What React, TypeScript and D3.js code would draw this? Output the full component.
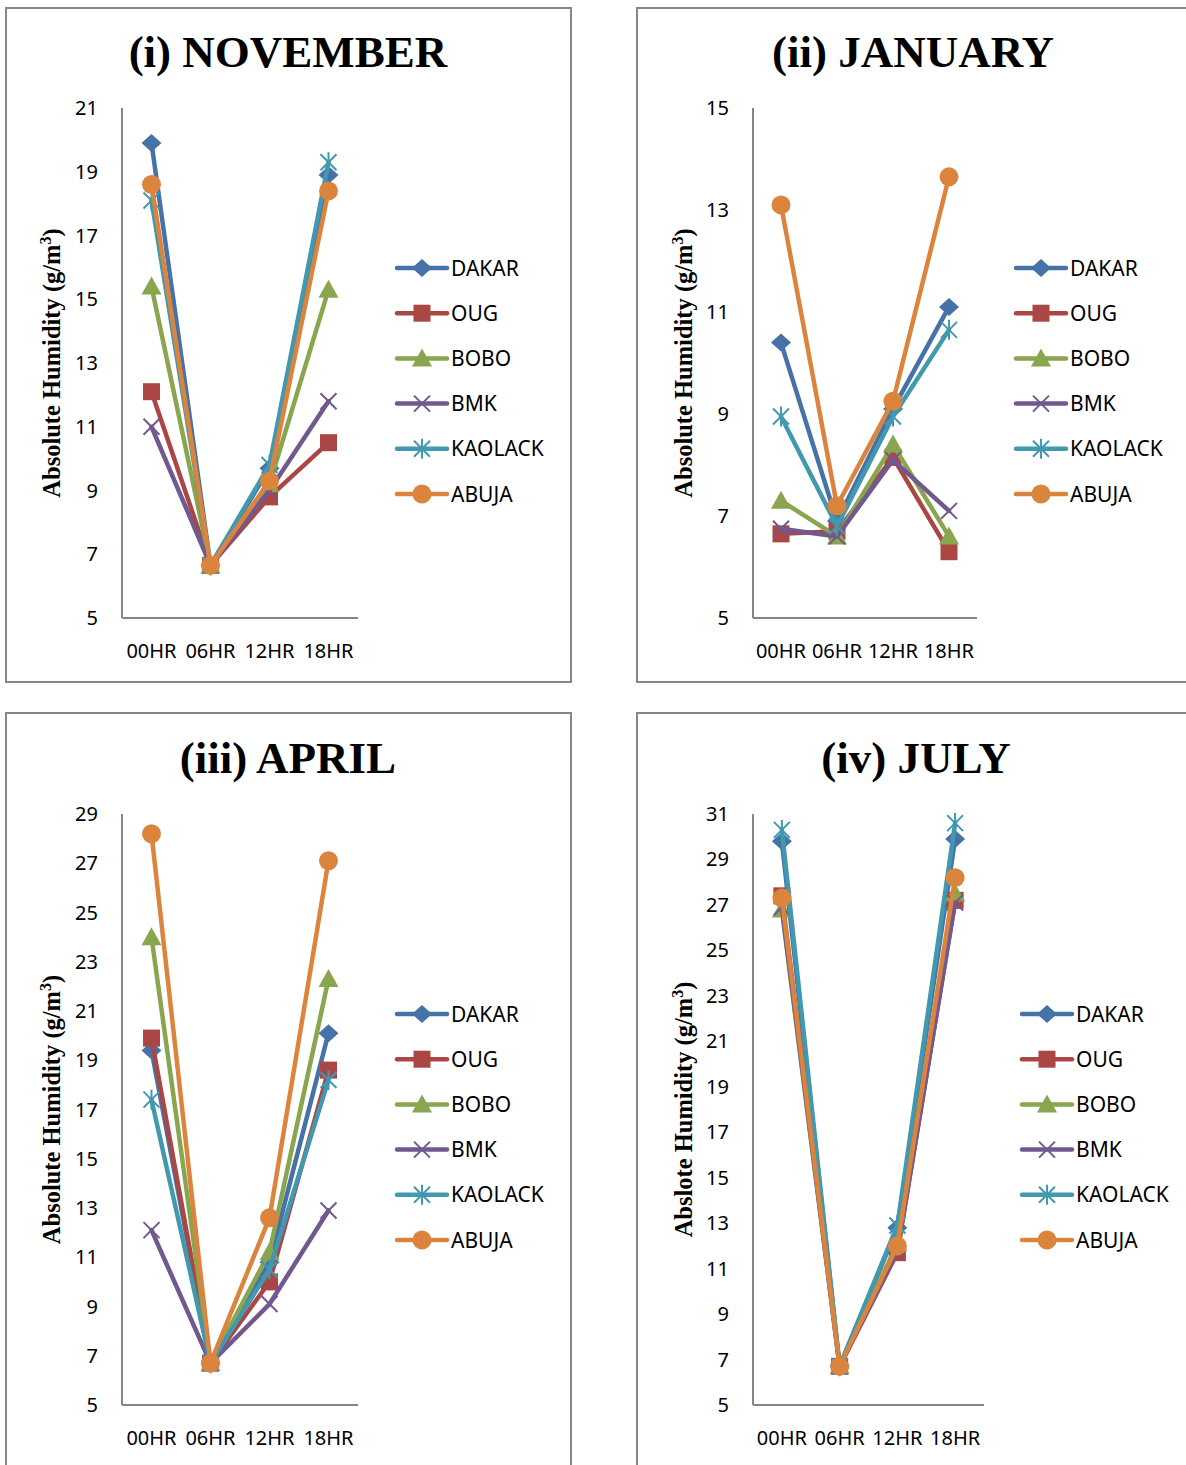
import React from "react";
import * as d3 from "d3";

const CATEGORIES = ["00HR", "06HR", "12HR", "18HR"];
const SERIES_NAMES = ["DAKAR", "OUG", "BOBO", "BMK", "KAOLACK", "ABUJA"];
const SERIES_COLORS = ["#4572A7", "#AA4643", "#89A54E", "#71588F", "#4198AF", "#DB843D"];
const SERIES_MARKERS = ["diamond", "square", "triangle", "x", "star", "circle"];

// (i) NOVEMBER
const NOV_DAKAR = [19.9, 6.65, 9.7, 18.9];
const NOV_OUG = [12.1, 6.65, 8.8, 10.5];
const NOV_BOBO = [15.4, 6.65, 9.2, 15.3];
const NOV_BMK = [11.0, 6.65, 9.0, 11.8];
const NOV_KAOLACK = [18.1, 6.65, 9.8, 19.3];
const NOV_ABUJA = [18.6, 6.65, 9.3, 18.4];

// (ii) JANUARY
const JAN_DAKAR = [10.4, 6.9, 9.1, 11.1];
const JAN_OUG = [6.65, 6.7, 8.15, 6.3];
const JAN_BOBO = [7.3, 6.6, 8.4, 6.6];
const JAN_BMK = [6.75, 6.6, 8.1, 7.1];
const JAN_KAOLACK = [8.95, 6.8, 8.95, 10.65];
const JAN_ABUJA = [13.1, 7.2, 9.25, 13.65];

// (iii) APRIL
const APR_DAKAR = [19.4, 6.7, 10.8, 20.1];
const APR_OUG = [19.9, 6.7, 10.0, 18.6];
const APR_BOBO = [24.0, 6.7, 11.2, 22.3];
const APR_BMK = [12.1, 6.7, 9.1, 12.9];
const APR_KAOLACK = [17.4, 6.7, 10.5, 18.2];
const APR_ABUJA = [28.2, 6.7, 12.6, 27.1];

// (iv) JULY
const JUL_DAKAR = [29.8, 6.7, 12.8, 29.9];
const JUL_OUG = [27.4, 6.7, 11.7, 27.2];
const JUL_BOBO = [26.8, 6.7, 12.1, 27.5];
const JUL_BMK = [26.9, 6.7, 11.8, 27.1];
const JUL_KAOLACK = [30.3, 6.7, 12.9, 30.6];
const JUL_ABUJA = [27.3, 6.7, 12.0, 28.2];

const NOV_TICKS = [5, 7, 9, 11, 13, 15, 17, 19, 21];
const JAN_TICKS = [5, 7, 9, 11, 13, 15];
const APR_TICKS = [5, 7, 9, 11, 13, 15, 17, 19, 21, 23, 25, 27, 29];
const JUL_TICKS = [5, 7, 9, 11, 13, 15, 17, 19, 21, 23, 25, 27, 29, 31];

const PANELS = [
  {
    title: "(i) NOVEMBER",
    yLabel: "Absolute Humidity (g/m",
    series: [NOV_DAKAR, NOV_OUG, NOV_BOBO, NOV_BMK, NOV_KAOLACK, NOV_ABUJA],
    ticks: NOV_TICKS,
    frame: { x: 6, y: 8, w: 565, h: 674 },
    plot: { x0: 122, x1: 358, top: 108, bottom: 618 },
    titleX: 288, titleY: 67,
    labelX: 60,
    legendX: 397, legendY: 268,
  },
  {
    title: "(ii) JANUARY",
    yLabel: "Absolute Humidity (g/m",
    series: [JAN_DAKAR, JAN_OUG, JAN_BOBO, JAN_BMK, JAN_KAOLACK, JAN_ABUJA],
    ticks: JAN_TICKS,
    frame: { x: 637, y: 8, w: 580, h: 674 },
    plot: { x0: 753, x1: 977, top: 108, bottom: 618 },
    titleX: 913, titleY: 67,
    labelX: 692,
    legendX: 1016, legendY: 268,
  },
  {
    title: "(iii) APRIL",
    yLabel: "Absolute Humidity (g/m",
    series: [APR_DAKAR, APR_OUG, APR_BOBO, APR_BMK, APR_KAOLACK, APR_ABUJA],
    ticks: APR_TICKS,
    frame: { x: 6, y: 713, w: 565, h: 800 },
    plot: { x0: 122, x1: 358, top: 814, bottom: 1405 },
    titleX: 288, titleY: 773,
    labelX: 60,
    legendX: 397, legendY: 1014,
  },
  {
    title: "(iv) JULY",
    yLabel: "Abslote Humidity (g/m",
    series: [JUL_DAKAR, JUL_OUG, JUL_BOBO, JUL_BMK, JUL_KAOLACK, JUL_ABUJA],
    ticks: JUL_TICKS,
    frame: { x: 637, y: 713, w: 580, h: 800 },
    plot: { x0: 753, x1: 984, top: 814, bottom: 1405 },
    titleX: 916, titleY: 773,
    labelX: 692,
    legendX: 1022, legendY: 1014,
  },
];

const SANS = "'Noto Sans', 'Open Sans', sans-serif";
const SERIF = "'Liberation Serif', 'Times New Roman', serif";

function Marker({ kind, x, y, color }: { kind: string; x: number; y: number; color: string }) {
  switch (kind) {
    case "diamond":
      return <path d={`M${x},${y - 9}L${x + 10},${y}L${x},${y + 9}L${x - 10},${y}Z`} fill={color} />;
    case "square":
      return <rect x={x - 8.5} y={y - 8.5} width={17} height={17} fill={color} />;
    case "triangle":
      return <path d={`M${x},${y - 10}L${x + 10},${y + 8}L${x - 10},${y + 8}Z`} fill={color} />;
    case "x":
      return (
        <path
          d={`M${x - 8},${y - 8}L${x + 8},${y + 8}M${x - 8},${y + 8}L${x + 8},${y - 8}`}
          stroke={color}
          strokeWidth={2}
          fill="none"
        />
      );
    case "star":
      return (
        <path
          d={`M${x - 8},${y - 8}L${x + 8},${y + 8}M${x - 8},${y + 8}L${x + 8},${y - 8}M${x},${y - 10}L${x},${y + 10}`}
          stroke={color}
          strokeWidth={2}
          fill="none"
        />
      );
    default:
      return <circle cx={x} cy={y} r={9.5} fill={color} />;
  }
}

function Panel({ p }: { p: (typeof PANELS)[number] }) {
  const x = d3.scaleBand<string>().domain(CATEGORIES).range([p.plot.x0, p.plot.x1]);
  const yMin = p.ticks[0];
  const yMax = p.ticks[p.ticks.length - 1];
  const y = d3.scaleLinear().domain([yMin, yMax]).range([p.plot.bottom, p.plot.top]);
  const cx = (c: string) => (x(c) as number) + x.bandwidth() / 2;
  const line = d3
    .line<number>()
    .x((_, i) => cx(CATEGORIES[i]))
    .y((d) => y(d));
  const midY = (p.plot.top + p.plot.bottom) / 2;
  const legendStep = 45.2;

  return (
    <g>
      <rect
        x={p.frame.x}
        y={p.frame.y}
        width={p.frame.w}
        height={p.frame.h}
        fill="#fff"
        stroke="#878787"
        strokeWidth={2}
      />
      <text
        x={p.titleX}
        y={p.titleY}
        textAnchor="middle"
        fontFamily={SERIF}
        fontWeight="bold"
        fontSize={45}
        fill="#000"
      >
        {p.title}
      </text>
      {p.ticks.map((t) => (
        <text
          key={t}
          x={p.plot.x0 - 24}
          y={y(t) + 7}
          textAnchor="end"
          fontFamily={SANS}
          fontSize={20}
          fill="#000"
        >
          {t}
        </text>
      ))}
      {CATEGORIES.map((c) => (
        <text
          key={c}
          x={cx(c)}
          y={p.plot.bottom + 40}
          textAnchor="middle"
          fontFamily={SANS}
          fontSize={20}
          fill="#000"
        >
          {c}
        </text>
      ))}
      <line x1={p.plot.x0} x2={p.plot.x0} y1={p.plot.top} y2={p.plot.bottom} stroke="#868686" strokeWidth={2} />
      <line x1={p.plot.x0} x2={p.plot.x1} y1={p.plot.bottom} y2={p.plot.bottom} stroke="#868686" strokeWidth={2} />
      <text
        transform={`translate(${p.labelX},${midY}) rotate(-90)`}
        textAnchor="middle"
        fontFamily={SERIF}
        fontWeight="bold"
        fontSize={24.5}
        fill="#000"
      >
        {p.yLabel}
        <tspan dy={-9} fontSize={16}>3</tspan>
        <tspan dy={9}>)</tspan>
      </text>
      {p.series.map((vals, si) => (
        <g key={SERIES_NAMES[si]}>
          <path
            d={line(vals) || ""}
            fill="none"
            stroke={SERIES_COLORS[si]}
            strokeWidth={4.5}
            strokeLinejoin="round"
            strokeLinecap="round"
          />
          {vals.map((v, i) => (
            <Marker key={i} kind={SERIES_MARKERS[si]} x={cx(CATEGORIES[i])} y={y(v)} color={SERIES_COLORS[si]} />
          ))}
        </g>
      ))}
      {SERIES_NAMES.map((name, si) => {
        const ly = p.legendY + si * legendStep;
        return (
          <g key={name}>
            <line
              x1={p.legendX}
              x2={p.legendX + 50}
              y1={ly}
              y2={ly}
              stroke={SERIES_COLORS[si]}
              strokeWidth={4.5}
              strokeLinecap="round"
            />
            <Marker kind={SERIES_MARKERS[si]} x={p.legendX + 25} y={ly} color={SERIES_COLORS[si]} />
            <text x={p.legendX + 54} y={ly + 7.5} fontFamily={SANS} fontSize={21} fill="#000">
              {name}
            </text>
          </g>
        );
      })}
    </g>
  );
}

export default function App() {
  return (
    <svg
      width={1186}
      height={1465}
      style={{ position: "absolute", left: 0, top: 0, display: "block", background: "#fff" }}
    >
      <rect x={0} y={0} width={1186} height={1465} fill="#fff" />
      {PANELS.map((p) => (
        <Panel key={p.title} p={p} />
      ))}
    </svg>
  );
}
